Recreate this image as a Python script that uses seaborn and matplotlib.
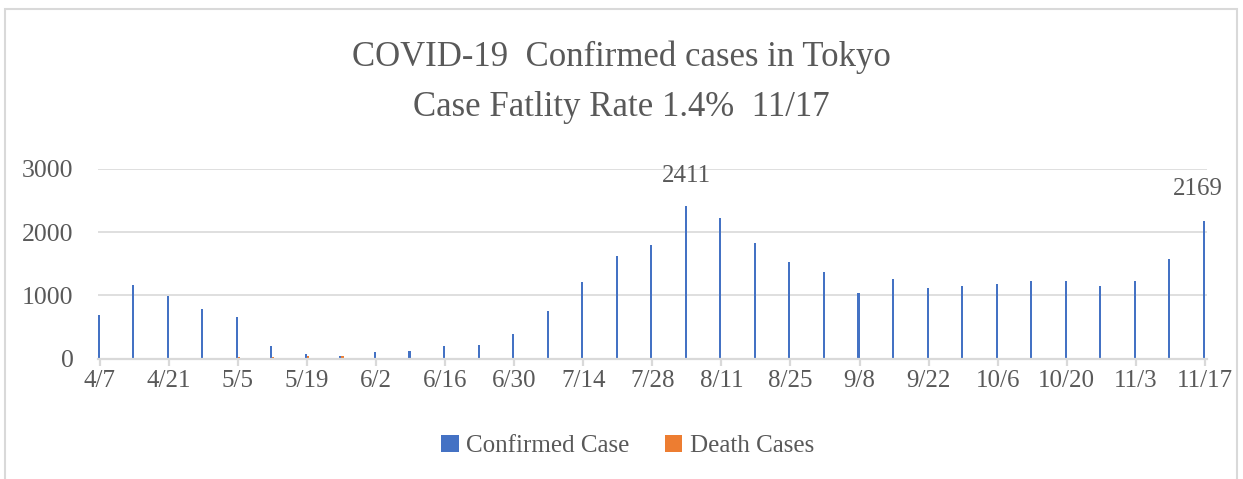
import numpy as np
import pandas as pd
import seaborn as sns
import matplotlib.pyplot as plt
from matplotlib.patches import Rectangle

# weekly counts, 4/7 .. 11/17
week_start = '2020-04-07'
confirmed = [690, 1164, 995, 780, 663, 200, 79, 47, 110, 121, 205, 221, 385, 749,
             1212, 1623, 1797, 2411, 2228, 1828, 1528, 1370, 1033, 1254, 1117, 1148,
             1180, 1227, 1227, 1144, 1223, 1570, 2169]
deaths = [5, 8, 15, 15, 30, 30, 40, 40, 8, 3, 1, 1, 2, 1, 2, 3, 3, 5, 6, 8, 8, 8,
          6, 5, 5, 4, 4, 3, 4, 3, 3, 4, 5]
series_names = ['Confirmed Case', 'Death Cases']
colors = ['#4472C4', '#ED7D31']

dates = pd.date_range(week_start, periods=len(confirmed), freq='7D')
days = [(d - dates[0]).days for d in dates]

df = pd.DataFrame({
    'day': days * 2,
    'series': [series_names[0]] * len(days) + [series_names[1]] * len(days),
    'value': confirmed + deaths,
})

sns.set_style('white')
plt.rcParams['font.family'] = ['Liberation Serif', 'DejaVu Serif']
txt = '#595959'
grid = '#d9d9d9'

fig = plt.figure(figsize=(12.43, 4.79), dpi=100)
ax = fig.add_axes([0.0786, 0.2511, 0.9710 - 0.0786, 0.6478 - 0.2511])

sns.barplot(data=df, x='day', y='value', hue='series', palette=colors,
            native_scale=True, width=0.12, dodge=True, ax=ax, saturation=1,
            linewidth=0, legend=True)

ax.set_xlim(-0.4, 224.4)
ax.set_ylim(0, 3000)
ax.set_yticks([0, 1000, 2000, 3000])
ax.set_xticks(days[::2])
ax.set_xticklabels([f'{d.month}/{d.day}' for d in dates[::2]])
ax.set_xlabel('')
ax.set_ylabel('')

ax.yaxis.grid(True, color=grid, linewidth=1.2)
ax.set_axisbelow(True)
for s in ['top', 'right', 'left']:
    ax.spines[s].set_visible(False)
ax.spines['bottom'].set_color(grid)
ax.spines['bottom'].set_linewidth(1.6)
ax.tick_params(axis='x', bottom=True, length=5, width=1.6, color=grid,
               labelsize=18, labelcolor=txt, pad=3)
ax.tick_params(axis='y', left=False, labelsize=18.5, labelcolor=txt, pad=14)

# peak labels
ax.annotate('2411', (days[17], confirmed[17]), xytext=(0, 21.5), textcoords='offset points',
            ha='center', va='center', fontsize=18, color=txt)
ax.annotate('2169', (days[-1], confirmed[-1]), xytext=(-5, 23), textcoords='offset points',
            ha='center', va='center', fontsize=18, color=txt)

handles, labels = ax.get_legend_handles_labels()
ax.legend_.remove()
fig.legend(handles, labels, loc='center', bbox_to_anchor=(0.505, 0.069), ncol=2,
           frameon=False, fontsize=18, labelcolor=txt, handlelength=0.7,
           handleheight=0.7, handletextpad=0.3, columnspacing=1.4)

fig.text(0.5, 1 - 57 / 479, 'COVID-19  Confirmed cases in Tokyo', ha='center',
         va='center', fontsize=25, color=txt)
fig.text(0.5, 1 - 108 / 479, 'Case Fatlity Rate 1.4%  11/17', ha='center',
         va='center', fontsize=25, color=txt)

fig.add_artist(Rectangle((5 / 1243, -0.05), 1232 / 1243, 1 - 9 / 479 + 0.05,
                         transform=fig.transFigure, fill=False, edgecolor=grid,
                         linewidth=1.5))

fig.savefig('out.png', dpi=100, facecolor='white')
